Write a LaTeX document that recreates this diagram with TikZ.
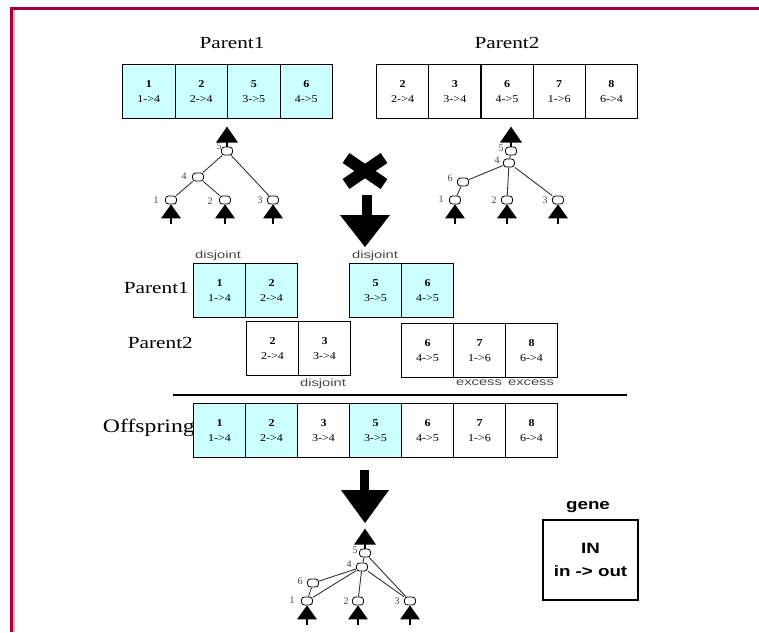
\documentclass[tikz,border=0pt]{standalone}
\usepackage{fontspec}
\setmainfont{Liberation Serif}
\newfontfamily\titlefont[FakeStretch=1.25]{Liberation Serif}
\newfontfamily\cellfont[FakeStretch=1.15]{Liberation Serif}
\newfontfamily\lblsans[FakeStretch=1.4]{Liberation Sans}
\newfontfamily\legsans[FakeStretch=1.25]{Liberation Sans}
\usetikzlibrary{calc}
\definecolor{border}{RGB}{160,0,50}
\definecolor{bpink}{RGB}{235,170,195}
\definecolor{gcyan}{RGB}{204,255,255}
\definecolor{lblgray}{RGB}{70,70,70}
\tikzset{
  cell/.style={draw, line width=1.1pt, anchor=north west, minimum height=54pt,
    inner sep=0pt, align=center, font=\cellfont\fontsize{10.5}{15}\selectfont},
  title/.style={font=\titlefont\fontsize{17}{17}\selectfont, inner sep=0pt},
  smallsans/.style={font=\lblsans\fontsize{10.5}{11}\selectfont, text=lblgray, inner sep=0pt},
  tn/.style={draw, fill=white, line width=0.8pt, rounded corners=3pt,
    minimum width=11pt, minimum height=8pt, inner sep=0pt},
  tl/.style={font=\fontsize{10}{10}\selectfont, text=lblgray, inner sep=0pt},
  edge/.style={line width=0.9pt, draw=black!80},
  uparr/.pic={\fill (-11,-4) -- (0,-20) -- (11,-4) -- cycle;
    \draw[line width=2pt] (0,0) -- (0,-5);},
  inarr/.pic={\fill (-10,14) -- (0,0) -- (10,14) -- cycle;
    \draw[line width=1.8pt] (0,13) -- (0,20);}
}
\newcommand\gcell[6]{\node[cell,fill=#1,minimum width=#2] (#3) at (#4) {\textbf{#5}\\#6};}
\begin{document}
\begin{tikzpicture}[x=1pt,y=-1pt]
\useasboundingbox (0,0) rectangle (759,632);
% border
\fill[border] (10,7.3) rectangle (759,10);
\fill[border] (10,7.3) rectangle (13.3,632);
\fill[bpink] (13.3,10) rectangle (15,632);

% titles
\node[title] (t1) at (232,43) {Parent1};
\node[title] (t2) at (507,43) {Parent2};

% Parent1 genome
\gcell{gcyan}{52.5pt}{pa1}{122,64}{1}{1->4}
\gcell{gcyan}{52.5pt}{pa2}{174.5,64}{2}{2->4}
\gcell{gcyan}{52.5pt}{pa5}{227,64}{5}{3->5}
\gcell{gcyan}{52.5pt}{pa6}{279.5,64}{6}{4->5}
% Parent2 genome
\gcell{white}{52.2pt}{pb2}{376,64}{2}{2->4}
\gcell{white}{52.2pt}{pb3}{428.2,64}{3}{3->4}
\gcell{white}{52.2pt}{pb6}{480.4,64}{6}{4->5}
\gcell{white}{52.2pt}{pb7}{532.6,64}{7}{1->6}
\gcell{white}{52.2pt}{pb8}{584.8,64}{8}{6->4}

% Tree of Parent1
\node[tn] (a5) at (227,151) {};
\node[tn] (a4) at (198,177) {};
\node[tn] (a1) at (171,200) {};
\node[tn] (a2) at (225,200) {};
\node[tn] (a3) at (273,200) {};
\draw[edge] (a5) -- (a4);
\draw[edge] (a5) -- (a3);
\draw[edge] (a4) -- (a1);
\draw[edge] (a4) -- (a2);
\node[tl] (a5l) at (219,146) {5};
\node[tl] (a4l) at (184,176) {4};
\node[tl] (a1l) at (156,200) {1};
\node[tl] (a2l) at (210,201) {2};
\node[tl] (a3l) at (260,200) {3};
\pic at (a5.north) {uparr};
\pic at (a1.south) {inarr};
\pic at (a2.south) {inarr};
\pic at (a3.south) {inarr};

% Tree of Parent2
\node[tn] (b5) at (511,151) {};
\node[tn] (b4) at (509,163) {};
\node[tn] (b6) at (463,182) {};
\node[tn] (b1) at (455,200) {};
\node[tn] (b2) at (507,200) {};
\node[tn] (b3) at (558,200) {};
\draw[edge] (b5) -- (b4);
\draw[edge] (b4) -- (b6);
\draw[edge] (b6) -- (b1);
\draw[edge] (b4) -- (b2);
\draw[edge] (b4) -- (b3);
\node[tl] (b5l) at (501,148) {5};
\node[tl] (b4l) at (497,160) {4};
\node[tl] (b6l) at (450,178) {6};
\node[tl] (b1l) at (441,199) {1};
\node[tl] (b2l) at (494,200) {2};
\node[tl] (b3l) at (545,200) {3};
\pic at (b5.north) {uparr};
\pic at (b1.south) {inarr};
\pic at (b2.south) {inarr};
\pic at (b3.south) {inarr};

% cross and arrow
\draw[line width=12pt] (346,158) -- (384,184) (384,158) -- (346,184);
\fill (362,195) rectangle (372,216);
\fill (340,215) -- (390,215) -- (365,247) -- cycle;

% aligned genomes
\node[title, anchor=east] (m1) at (189,288) {Parent1};
\node[title, anchor=east] (m2) at (193,343) {Parent2};
\node[smallsans] (dj1) at (218,256) {disjoint};
\node[smallsans] (dj2) at (375,256) {disjoint};
\gcell{gcyan}{52pt}{ma1}{193,263}{1}{1->4}
\gcell{gcyan}{52pt}{ma2}{245,263}{2}{2->4}
\gcell{gcyan}{52pt}{ma5}{349,263}{5}{3->5}
\gcell{gcyan}{52pt}{ma6}{401,263}{6}{4->5}
\gcell{white}{52pt}{mb2}{246,321}{2}{2->4}
\gcell{white}{52pt}{mb3}{298,321}{3}{3->4}
\gcell{white}{52pt}{mb6}{401,323}{6}{4->5}
\gcell{white}{52pt}{mb7}{453,323}{7}{1->6}
\gcell{white}{52pt}{mb8}{505,323}{8}{6->4}
\node[smallsans] (dj3) at (323,384) {disjoint};
\node[smallsans] (ex1) at (479,383) {excess};
\node[smallsans] (ex2) at (531,383) {excess};
\draw[line width=1.2pt] (173,395) -- (627,395);

% offspring
\node[title, anchor=east, font=\titlefont\fontsize{19}{19}\selectfont] (off) at (195,428) {Offspring};
\gcell{gcyan}{52pt}{o1}{193,403}{1}{1->4}
\gcell{gcyan}{52pt}{o2}{245,403}{2}{2->4}
\gcell{white}{52pt}{o3}{297,403}{3}{3->4}
\gcell{gcyan}{52pt}{o5}{349,403}{5}{3->5}
\gcell{white}{52pt}{o6}{401,403}{6}{4->5}
\gcell{white}{52pt}{o7}{453,403}{7}{1->6}
\gcell{white}{52pt}{o8}{505,403}{8}{6->4}

% arrow down
\fill (360,470) rectangle (369,491);
\fill (341,490) -- (389,490) -- (365,523) -- cycle;

% Offspring tree
\node[tn] (c5) at (365,553) {};
\node[tn] (c4) at (362,567) {};
\node[tn] (c6) at (313,583) {};
\node[tn] (c1) at (307,601) {};
\node[tn] (c2) at (358,601) {};
\node[tn] (c3) at (410,601) {};
\draw[edge] (c5) -- (c4);
\draw[edge] (c5) -- (c3);
\draw[edge] (c4) -- (c6);
\draw[edge] (c6) -- (c1);
\draw[edge] (c4) -- (c1);
\draw[edge] (c4) -- (c2);
\draw[edge] (c4) -- (c3);
\node[tl] (c5l) at (355,550) {5};
\node[tl] (c4l) at (349,564) {4};
\node[tl] (c6l) at (300,581) {6};
\node[tl] (c1l) at (292,600) {1};
\node[tl] (c2l) at (346,601) {2};
\node[tl] (c3l) at (397,601) {3};
\pic at (c5.north) {uparr};
\pic at (c1.south) {inarr};
\pic at (c2.south) {inarr};
\pic at (c3.south) {inarr};

% legend
\node[font=\legsans\bfseries\fontsize{15}{15}\selectfont, inner sep=0pt] (gene) at (588,507) {gene};
\node[draw, line width=1.2pt, minimum width=95pt, minimum height=80pt, inner sep=0pt,
  align=center, font=\legsans\bfseries\fontsize{15}{23}\selectfont] (leg) at (590.5,560) {IN\\in -> out};
\end{tikzpicture}
\end{document}
